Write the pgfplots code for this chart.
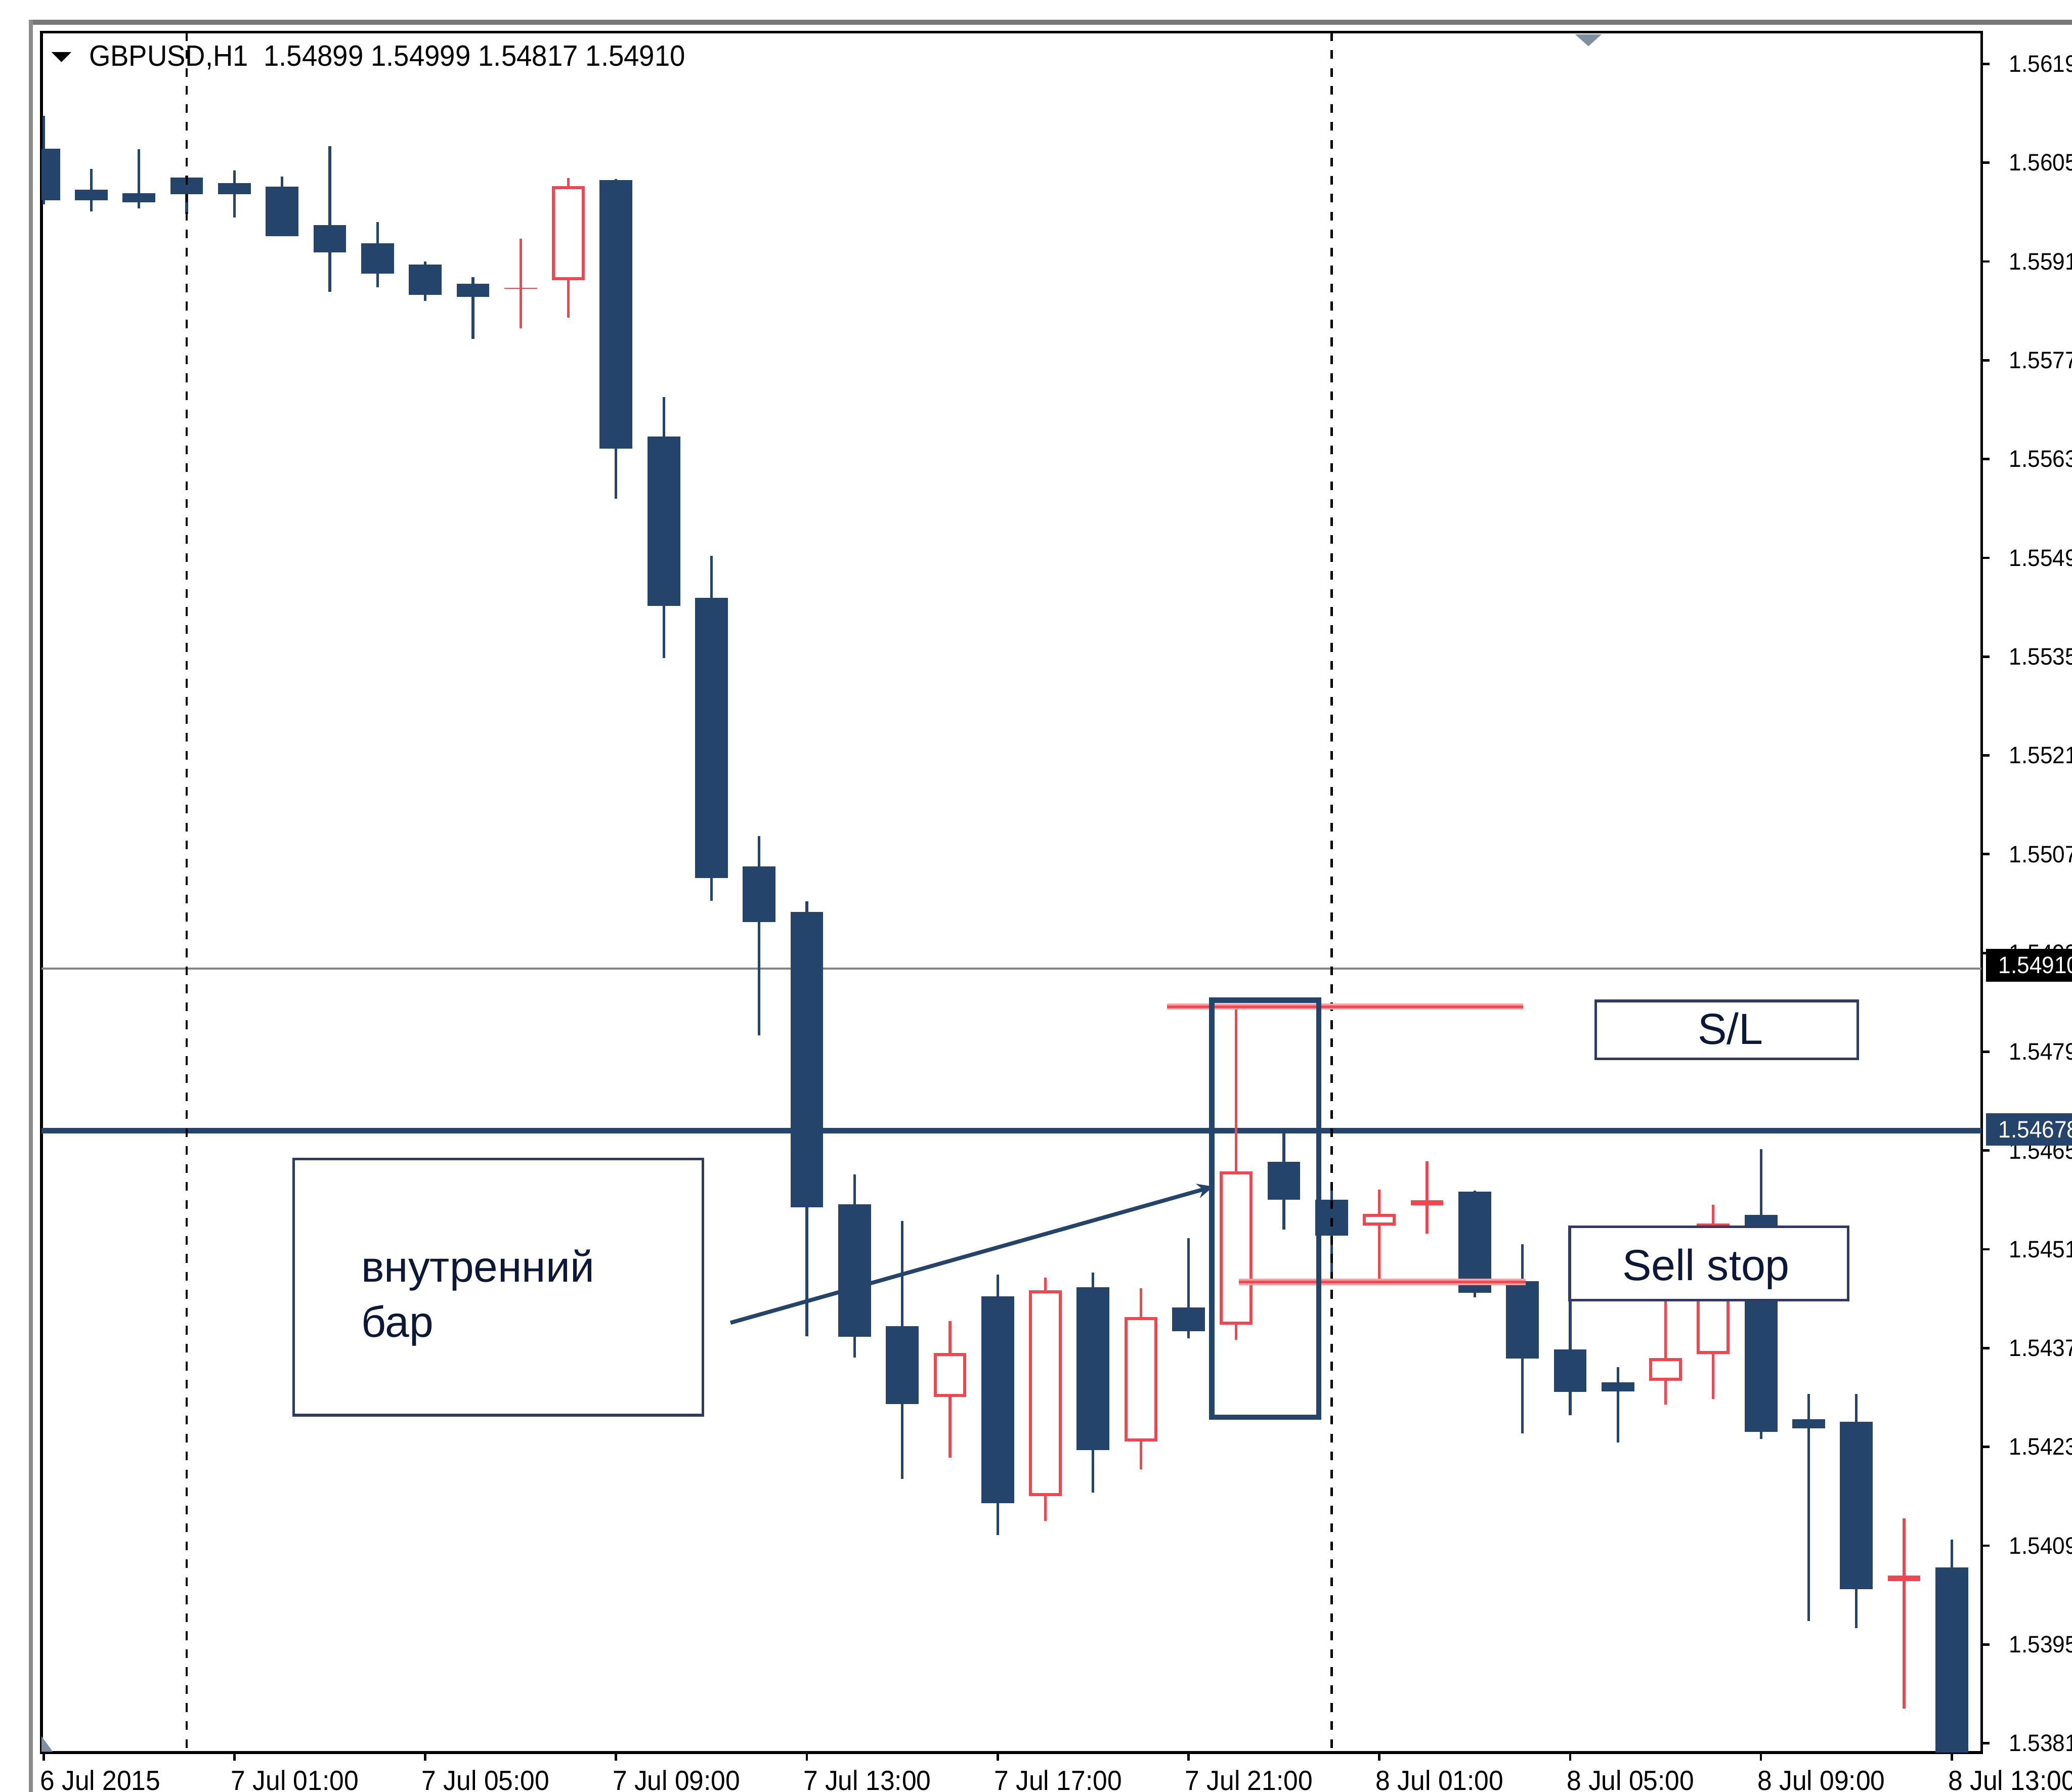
\documentclass[border=0pt]{standalone}
\usepackage{pgfplots}
\pgfplotsset{compat=1.18}
\usepackage{pgfplotstable}
\usetikzlibrary{arrows.meta}
\usepackage{fontspec}
\setmainfont{Liberation Sans}
\newfontfamily\mtfont[FakeStretch=0.94]{Liberation Sans}
\definecolor{navyc}{HTML}{24446C}
\definecolor{redc}{HTML}{EF4650}
\definecolor{linegray}{HTML}{7D868F}
\definecolor{boxc}{HTML}{2F3B62}
\definecolor{txtc}{HTML}{0C1838}
\definecolor{slpink}{HTML}{F5A3A6}
\definecolor{slred}{HTML}{EE4A52}
\definecolor{framegray}{HTML}{777777}
\definecolor{markgray}{HTML}{7F8FA0}

% bearish candles (open > close): k open high low close
\pgfplotstableread{
k o h l c
0 1.56071 1.56116 1.55991 1.55998
1 1.56013 1.56041 1.55981 1.55998
2 1.56007 1.56069 1.55985 1.55994
3 1.56030 1.56032 1.55977 1.56006
4 1.56022 1.56039 1.55972 1.56006
5 1.56017 1.56030 1.55946 1.55947
6 1.55962 1.56073 1.55867 1.55923
7 1.55936 1.55966 1.55873 1.55893
8 1.55906 1.55910 1.55854 1.55863
9 1.55878 1.55888 1.55800 1.55859
12 1.56026 1.56027 1.55574 1.55646
13 1.55663 1.55718 1.55348 1.55423
14 1.55434 1.55493 1.55004 1.55037
15 1.55053 1.55096 1.54813 1.54974
16 1.54990 1.55003 1.54387 1.54571
17 1.54575 1.54616 1.54357 1.54387
18 1.54402 1.54550 1.54185 1.54292
20 1.54444 1.54474 1.54105 1.54151
22 1.54457 1.54477 1.54165 1.54226
24 1.54429 1.54526 1.54384 1.54395
26 1.54635 1.54676 1.54538 1.54581
27 1.54581 1.54597 1.54462 1.54530
30 1.54592 1.54593 1.54442 1.54449
31 1.54466 1.54517 1.54249 1.54356
32 1.54369 1.54440 1.54275 1.54309
33 1.54322 1.54343 1.54236 1.54309
36 1.54560 1.54652 1.54241 1.54253
37 1.54271 1.54305 1.53983 1.54258
38 1.54267 1.54305 1.53973 1.54030
40 1.54060 1.54099 1.53760 1.53770
}\beartable

% bullish candles (close > open), hollow
\pgfplotstableread{
k o h l c
11 1.55884 1.56028 1.55830 1.56017
19 1.54301 1.54408 1.54215 1.54363
21 1.54161 1.54470 1.54125 1.54453
23 1.54238 1.54455 1.54198 1.54414
25 1.54404 1.54854 1.54382 1.54621
28 1.54544 1.54595 1.54466 1.54560
34 1.54324 1.54442 1.54290 1.54356
35 1.54362 1.54573 1.54298 1.54547
}\bulltable

% bullish doji candles
\pgfplotstableread{
k o h l c
10 1.55871 1.55942 1.55815 1.55873
29 1.54573 1.54635 1.54532 1.54580
39 1.54041 1.54129 1.53859 1.54049
}\dojitable

\pgfplotsset{candle/.style={only marks, mark=*, mark size=0pt, mark options={draw=none, fill=none}, forget plot}}

\begin{document}
\begin{tikzpicture}
\fill[white] (-15.65pt,-14.8pt) rectangle (768.35pt,663.2pt);
\begin{axis}[
  at={(0pt,0pt)}, anchor=south west,
  width=734.15pt, height=651.05pt, scale only axis,
  xmin=-0.047, xmax=40.626, ymin=1.53797, ymax=1.56235,
  axis line style={black, line width=1.1pt},
  xtick={0,4,8,12,16,20,24,28,32,36,40},
  xticklabels={6 Jul 2015, 7 Jul 01:00, 7 Jul 05:00, 7 Jul 09:00, 7 Jul 13:00, 7 Jul 17:00, 7 Jul 21:00, 8 Jul 01:00, 8 Jul 05:00, 8 Jul 09:00, 8 Jul 13:00},
  ytick={1.5381,1.5395,1.5409,1.5423,1.5437,1.5451,1.5465,1.5479,1.5493,1.5507,1.5521,1.5535,1.5549,1.5563,1.5577,1.5591,1.5605,1.5619},
  yticklabels={1.53810,1.53950,1.54090,1.54230,1.54370,1.54510,1.54650,1.54790,1.54930,1.55070,1.55210,1.55350,1.55490,1.55630,1.55770,1.55910,1.56050,1.56190},
  xtick pos=left, ytick pos=right, yticklabel pos=right,
  tick align=outside, major tick length=3pt,
  tick style={black, line width=0.9pt},
  xticklabel style={font=\mtfont\fontsize{10.5pt}{12pt}\selectfont, anchor=north west, inner sep=0pt, xshift=-1.5pt, yshift=-3.4pt},
  yticklabel style={font=\mtfont\fontsize{9pt}{10pt}\selectfont, anchor=west, inner sep=0pt, xshift=7.2pt},
  clip=true,
]
% horizontal price lines (behind candles)
\draw[linegray, line width=0.85pt] (-0.047,1.54908) -- (40.626,1.54908);
\draw[navyc, line width=2.2pt] (-0.047,1.54678) -- (40.626,1.54678);

% wicks
\addplot[candle, error bars/.cd, y dir=both, y explicit, error mark=none,
  error bar style={draw=navyc, line width=1pt, solid}]
  table[x=k, y=o, y error plus expr=\thisrow{h}-\thisrow{o}, y error minus expr=\thisrow{o}-\thisrow{l}] {\beartable};
\addplot[candle, error bars/.cd, y dir=both, y explicit, error mark=none,
  error bar style={draw=redc, line width=1pt, solid}]
  table[x=k, y=o, y error plus expr=\thisrow{h}-\thisrow{o}, y error minus expr=\thisrow{o}-\thisrow{l}] {\bulltable};
\addplot[candle, error bars/.cd, y dir=both, y explicit, error mark=none,
  error bar style={draw=redc, line width=1pt, solid}]
  table[x=k, y=o, y error plus expr=\thisrow{h}-\thisrow{o}, y error minus expr=\thisrow{o}-\thisrow{l}] {\dojitable};
% bodies
\addplot[candle, error bars/.cd, y dir=both, y explicit, error mark=none,
  error bar style={draw=navyc, line width=12.4pt, solid}]
  table[x=k, y expr=(\thisrow{o}+\thisrow{c})/2, y error expr=(\thisrow{o}-\thisrow{c})/2] {\beartable};
\addplot[candle, error bars/.cd, y dir=both, y explicit, error mark=none,
  error bar style={draw=redc, line width=12.4pt, solid}]
  table[x=k, y expr=(\thisrow{o}+\thisrow{c})/2, y error expr=(\thisrow{c}-\thisrow{o})/2] {\bulltable};
\addplot[candle, error bars/.cd, y dir=both, y explicit, error mark=none,
  error bar style={draw=white, line width=10.1pt, solid}]
  table[x=k, y expr=(\thisrow{o}+\thisrow{c})/2, y error expr=(\thisrow{c}-\thisrow{o})/2-0.000043] {\bulltable};
\addplot[candle, error bars/.cd, y dir=both, y explicit, error mark=none,
  error bar style={draw=redc, line width=12.4pt, solid}]
  table[x=k, y expr=(\thisrow{o}+\thisrow{c})/2, y error expr=(\thisrow{c}-\thisrow{o})/2] {\dojitable};

% period separators
\draw[black, line width=0.9pt, dash pattern=on 3.3pt off 3.5pt] (3,1.56235) -- (3,1.53797);
\draw[black, line width=0.9pt, dash pattern=on 3.3pt off 3.5pt] (27,1.56235) -- (27,1.53797);

% S/L and sell stop lines
\draw[slpink, line width=2.4pt] (23.55,1.54854) -- (31.02,1.54854);
\draw[slred, line width=0.9pt] (23.55,1.54854) -- (31.02,1.54854);
\draw[slpink, line width=2.4pt] (25.06,1.54464) -- (31.07,1.54464);
\draw[slred, line width=0.9pt] (25.06,1.54464) -- (31.07,1.54464);

% inside bar frame
\draw[navyc, line width=2pt] (24.49,1.54272) rectangle (26.73,1.54863);

% text box and arrow
\draw[boxc, line width=1pt, fill=white] (5.24,1.54275) rectangle (13.82,1.54638);
\node[anchor=base west, inner sep=0pt, text=txtc, font=\fontsize{16.4pt}{20pt}\selectfont] at (6.65,1.54464) {внутренний};
\node[anchor=base west, inner sep=0pt, text=txtc, font=\fontsize{16.4pt}{20pt}\selectfont] at (6.65,1.54386) {бар};
\draw[navyc, line width=1.5pt, -{Stealth[length=6pt, width=5.5pt]}] (14.40,1.54406) -- (24.52,1.54599);

% S/L box
\draw[boxc, line width=1pt, fill=white] (32.54,1.54780) rectangle (38.03,1.54862);
\node[anchor=base, inner sep=0pt, text=txtc, font=\fontsize{16.5pt}{20pt}\selectfont] at (35.36,1.54801) {S/L};
% Sell stop box
\draw[boxc, line width=1pt, fill=white] (31.99,1.54438) rectangle (37.83,1.54542);
\node[anchor=base, inner sep=0pt, text=txtc, font=\fontsize{16.5pt}{20pt}\selectfont] at (34.85,1.54466) {Sell stop};
\end{axis}

% outer window frame
\draw[framegray, line width=2pt] (-4.8pt,654.8pt) -- (772pt,654.8pt);
\draw[framegray!85, line width=1.6pt] (-3.95pt,655.8pt) -- (-3.95pt,-16pt);

% header
\fill[black] (3.85pt,643.5pt) -- (11.35pt,643.5pt) -- (7.6pt,639.7pt) -- cycle;
\node[anchor=base west, inner sep=0pt, font=\mtfont\fontsize{11.1pt}{13pt}\selectfont] at (17.85pt,638.2pt) {GBPUSD,H1\ \ 1.54899 1.54999 1.54817 1.54910};

% small markers
\fill[markgray] (580.35pt,650.2pt) -- (590.35pt,650.2pt) -- (585.35pt,645.7pt) -- cycle;
\fill[markgray] (0pt,6.2pt) -- (0pt,0.3pt) -- (4.35pt,0.3pt) -- cycle;

% price labels on the right scale
\fill[black] (735.85pt,291.65pt) rectangle (772pt,304.05pt);
\node[anchor=west, inner sep=0pt, text=white, font=\mtfont\fontsize{9pt}{10pt}\selectfont] at (740.35pt,297.85pt) {1.54910};
\fill[navyc] (735.85pt,229.6pt) rectangle (772pt,242pt);
\node[anchor=west, inner sep=0pt, text=white, font=\mtfont\fontsize{9pt}{10pt}\selectfont] at (740.35pt,235.8pt) {1.54678};

\pgfresetboundingbox
\useasboundingbox (-15.65pt,-14.8pt) rectangle (768.35pt,663.2pt);
\end{tikzpicture}
\end{document}
